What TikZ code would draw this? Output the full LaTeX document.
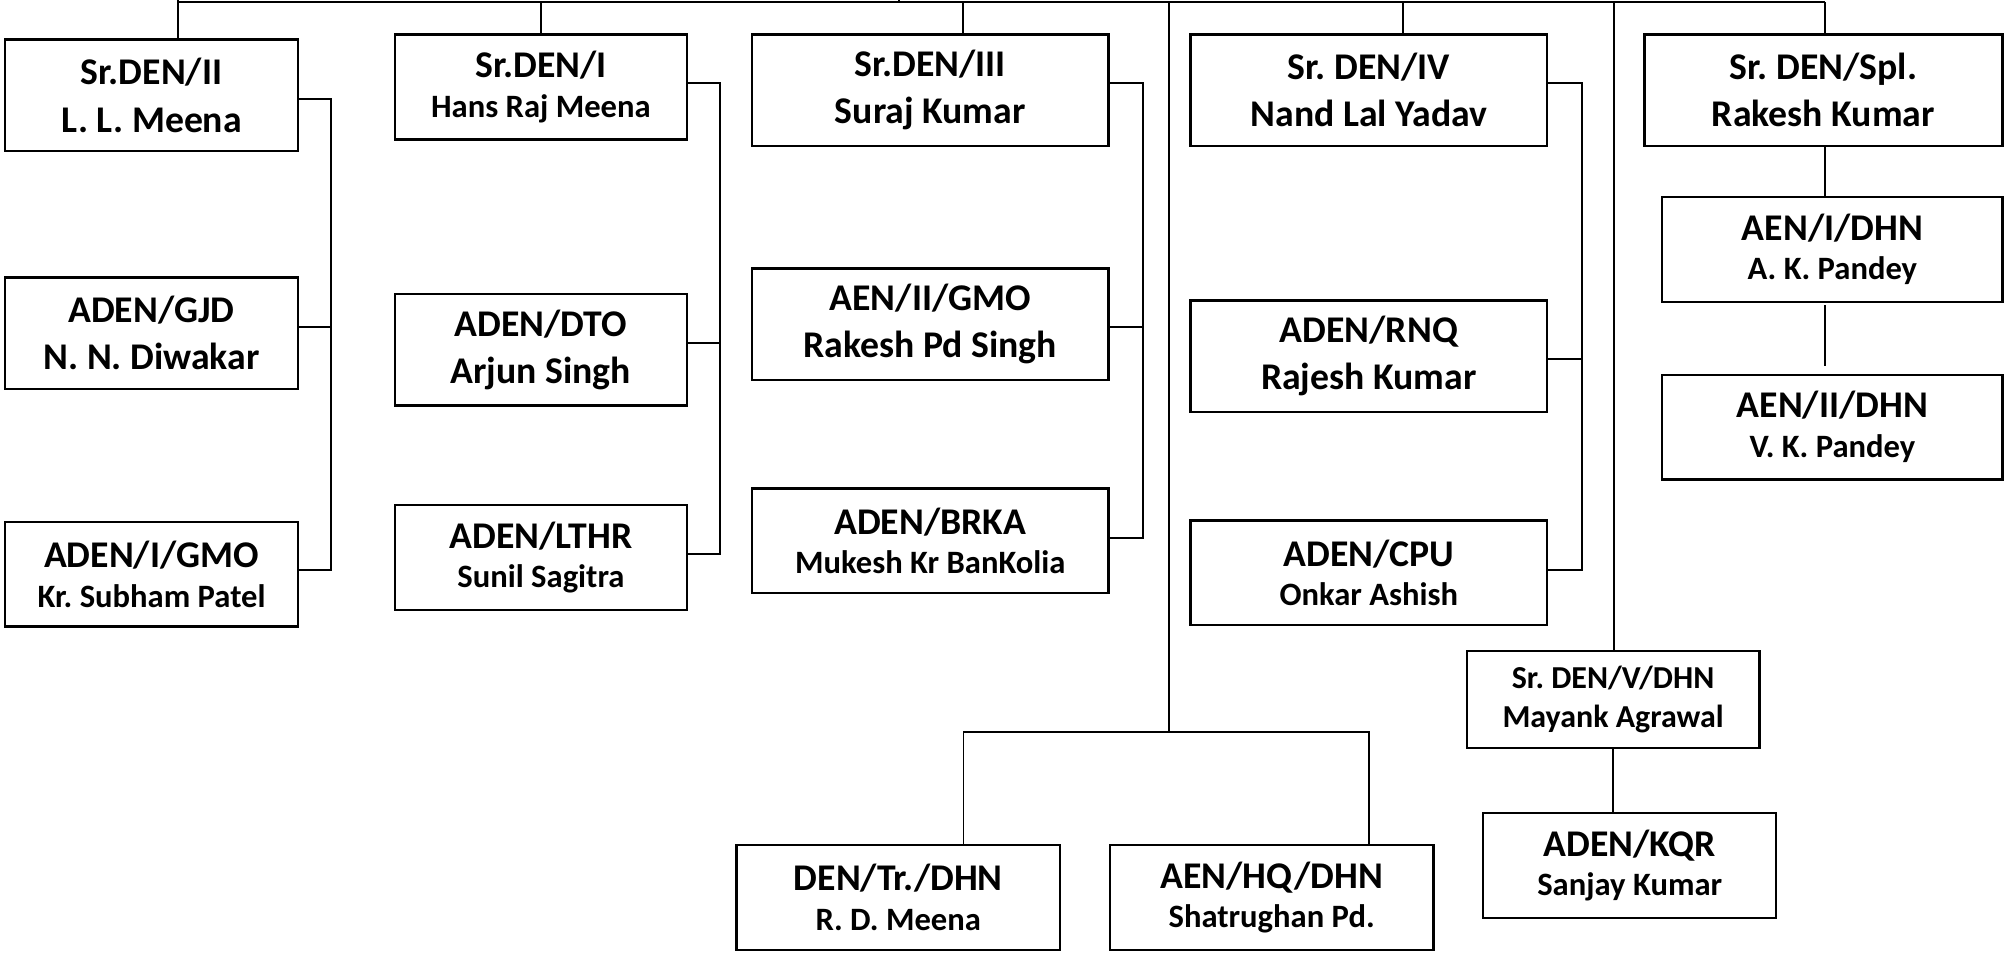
\documentclass[tikz,border=0pt]{standalone}
\usepackage{fontspec}
\setmainfont{Carlito}
\frenchspacing
\newcommand{\Tl}{\fontsize{29.5}{37}\selectfont}
\newcommand{\Sm}{\fontsize{25.5}{30}\selectfont}
\newcommand{\Sv}{\fontsize{25}{30}\selectfont}
\tikzset{
  box/.style={draw, line width=1.8pt, inner sep=0pt, align=center, font=\frenchspacing\bfseries\Tl},
  boxs/.style={box, font=\frenchspacing\bfseries\Sv},
  conn/.style={line width=1.4pt}
}
\begin{document}
\begin{tikzpicture}[x=1pt,y=-1pt]
\useasboundingbox (0,0) rectangle (1568,745);
% column 1
\node[box, minimum width=229pt, minimum height=87pt] (b1) at (118.5,74.5) {Sr.DEN/II\\L. L. Meena};
\node[box, minimum width=229pt, minimum height=87pt] (b2) at (118.5,260.5) {ADEN/GJD\\N. N. Diwakar};
\node[box, minimum width=229pt, minimum height=82pt] (b3) at (118.5,449) {ADEN/I/GMO\\[-6pt]{\Sm Kr. Subham Patel}};
% column 2
\node[box, minimum width=228pt, minimum height=82pt] (b4) at (423,68) {Sr.DEN/I\\[-6pt]{\Sm Hans Raj Meena}};
\node[box, minimum width=228pt, minimum height=87pt] (b5) at (423,273.5) {ADEN/DTO\\Arjun Singh};
\node[box, minimum width=228pt, minimum height=82pt] (b6) at (423,436) {ADEN/LTHR\\[-6pt]{\Sm Sunil Sagitra}};
% column 3
\node[box, minimum width=279pt, minimum height=87pt] (b7) at (727.5,70.5) {Sr.DEN/III\\Suraj Kumar};
\node[box, minimum width=279pt, minimum height=87pt] (b8) at (727.5,253.5) {AEN/II/GMO\\Rakesh Pd Singh};
\node[box, minimum width=279pt, minimum height=82pt] (b9) at (727.5,423) {ADEN/BRKA\\[-6pt]{\Sm Mukesh Kr BanKolia}};
% bottom centre
\node[box, minimum width=253pt, minimum height=82pt] (b10) at (702.5,702) {DEN/Tr./DHN\\[-6pt]{\Sm R. D. Meena}};
\node[box, minimum width=253pt, minimum height=82pt] (b11) at (994.5,702) {AEN/HQ/DHN\\[-6pt]{\Sm Shatrughan Pd.}};
% column 4
\node[box, minimum width=279pt, minimum height=87pt] (b12) at (1070.5,70.5) {Sr. DEN/IV\\Nand Lal Yadav};
\node[box, minimum width=279pt, minimum height=87pt] (b13) at (1070.5,278.5) {ADEN/RNQ\\Rajesh Kumar};
\node[box, minimum width=279pt, minimum height=82pt] (b14) at (1070.5,448) {ADEN/CPU\\[-6pt]{\Sm Onkar Ashish}};
% Sr DEN/V
\node[boxs, minimum width=229pt, minimum height=76pt] (b15) at (1261.5,547) {Sr. DEN/V/DHN\\Mayank Agrawal};
\node[box, minimum width=229pt, minimum height=82pt] (b16) at (1274.5,677) {ADEN/KQR\\[-6pt]{\Sm Sanjay Kumar}};
% column 5
\node[box, minimum width=280pt, minimum height=87pt] (b17) at (1426,70.5) {Sr. DEN/Spl.\\Rakesh Kumar};
\node[box, minimum width=266pt, minimum height=82pt] (b18) at (1433,195) {AEN/I/DHN\\[-6pt]{\Sm A. K. Pandey}};
\node[box, minimum width=266pt, minimum height=82pt] (b19) at (1433,334) {AEN/II/DHN\\[-6pt]{\Sm V. K. Pandey}};

% bus coordinates
\coordinate (t1) at (139.5,1.5);
\coordinate (t2) at (423,1.5);
\coordinate (root) at (703,1.5);
\coordinate (t3) at (753,1.5);
\coordinate (t6) at (914,1.5);
\coordinate (t4) at (1097,1.5);
\coordinate (t7) at (1262,1.5);
\coordinate (t8) at (1427,1.5);
\coordinate (j) at (914,572.5);

\draw[conn] (t1) -- (t8);
\draw[conn] (root) -- ++(0,-2);
\draw[conn] (t1 |- b1.north) -- ++(0,-31);
\draw[conn] (t2) -- (t2 |- b4.north);
\draw[conn] (t3) -- (t3 |- b7.north);
\draw[conn] (t4) -- (t4 |- b12.north);
\draw[conn] (t8) -- (t8 |- b17.north);
\draw[conn] (t6) -- (j);
\draw[conn] (t7) -- (t7 |- b15.north);

% brackets
\draw[conn] ([yshift=-3pt]b1.east) -- ++(25,0) |- ([yshift=3pt]b3.east);
\draw[conn] ([yshift=4.5pt]b2.east) -- ++(25,0);
\draw[conn] ([yshift=3pt]b4.east) -- ++(25,0) |- ([yshift=3pt]b6.east);
\draw[conn] ([yshift=5.5pt]b5.east) -- ++(25,0);
\draw[conn] ([yshift=5.5pt]b7.east) -- ++(26,0) |- ([yshift=2.5pt]b9.east);
\draw[conn] ([yshift=-2.5pt]b8.east) -- ++(26,0);
\draw[conn] ([yshift=5.5pt]b12.east) -- ++(26,0) |- ([yshift=2pt]b14.east);
\draw[conn] ([yshift=-2.5pt]b13.east) -- ++(26,0);

% bottom centre split
\draw[conn] ([xshift=51pt]b10.north) |- (j) -| ([xshift=76pt]b11.north);

% Sr DEN/V to KQR
\draw[conn] (b15.south) -- (b15.south |- b16.north);

% column 5 chain
\draw[conn] (t8 |- b17.south) -- (t8 |- b18.north);
\draw[conn, shorten <=2pt, shorten >=6pt] (t8 |- b18.south) -- (t8 |- b19.north);
\end{tikzpicture}
\end{document}
